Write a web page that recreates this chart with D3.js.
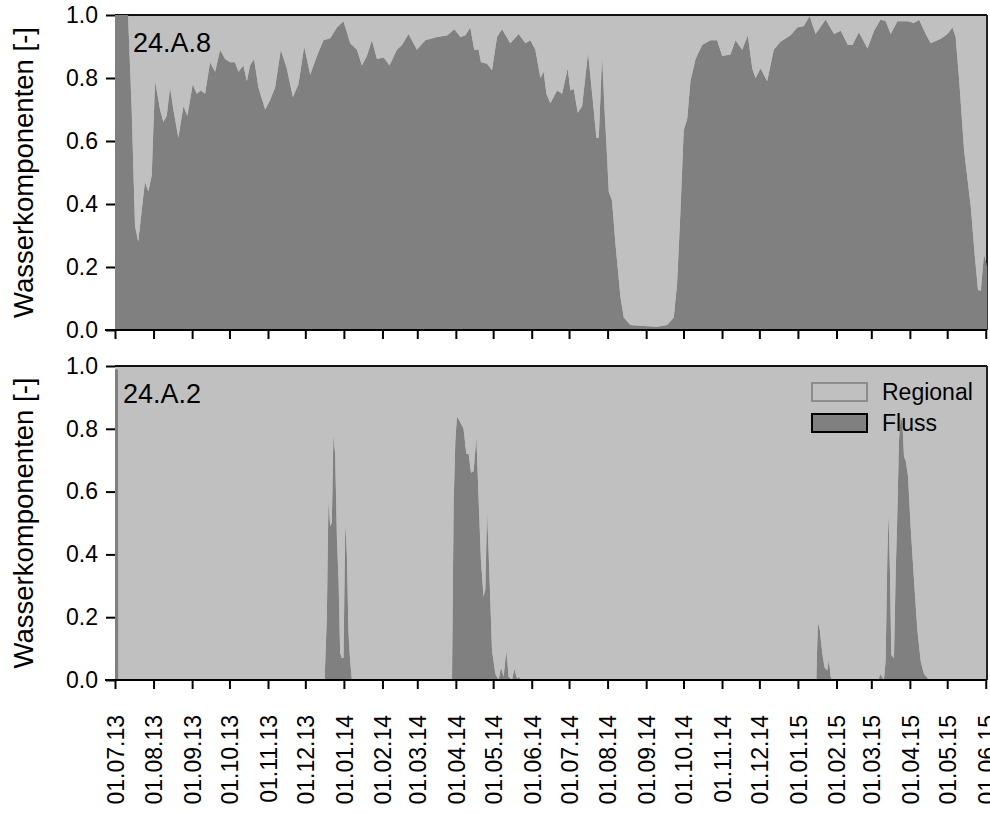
<!DOCTYPE html>
<html>
<head>
<meta charset="utf-8">
<script src="https://cdn.jsdelivr.net/npm/d3@7"></script>
<style>
    body { margin: 0; background: #fff; }
    text { font-family: "Liberation Sans", Arial, sans-serif; fill: #000; }
</style>
</head>
<body>
<div id="chart"></div>
<script>
// day offsets counted from startDate, value = Fluss share [-]
const startDate = "2013-07-01";
const endDate = "2015-06-02";

const tickLabels = ["01.07.13", "01.08.13", "01.09.13", "01.10.13", "01.11.13", "01.12.13",
    "01.01.14", "01.02.14", "01.03.14", "01.04.14", "01.05.14", "01.06.14", "01.07.14",
    "01.08.14", "01.09.14", "01.10.14", "01.11.14", "01.12.14", "01.01.15", "01.02.15",
    "01.03.15", "01.04.15", "01.05.15", "01.06.15"];
const yTicks = [0, 0.2, 0.4, 0.6, 0.8, 1.0];

const seriesNames = ["Regional", "Fluss"];

// 24.A.8
const topDays = [0, 10.5, 13.4, 16.1, 18.7, 21.5, 24.1, 26.8, 29.5, 32.2, 36.2, 38.9, 41.6, 44.3, 46.9,
    50.9, 55.0, 58.2, 62.5, 65.7, 69.0, 72.4, 76.4, 80.5, 84.5, 88.5, 92.5, 96.5, 99.2, 103.2,
    106.0, 108.6, 111.8, 115.3, 120.7, 124.7, 128.7, 133.3, 138.1, 143.0, 147.5, 152.1, 156.9,
    162.3, 167.6, 173.0, 178.4, 183.7, 189.1, 194.5, 198.5, 202.5, 206.5, 210.6, 215.9, 220.7,
    226.6, 230.7, 236.0, 242.7, 249.4, 258.8, 266.9, 272.8, 277.6, 281.6, 285.6, 288.8, 292.3,
    294.2, 299.1, 303.1, 307.1, 311.1, 317.8, 324.5, 329.9, 333.9, 337.9, 342.0, 344.6, 346.8,
    350.0, 355.4, 359.4, 363.9, 366.1, 368.8, 372.0, 375.5, 380.3, 383.6, 387.0, 388.9, 391.6,
    393.4, 395.6, 396.9, 399.6, 402.3, 406.3, 409.0, 414.3, 425.0, 435.8, 443.9, 449.2, 451.9,
    454.6, 457.2, 460.0, 462.6, 466.7, 472.0, 478.7, 484.1, 488.1, 494.8, 498.8, 504.2, 508.7,
    512.3, 514.9, 519.0, 524.3, 529.6, 535.0, 543.1, 548.5, 553.8, 558.4, 563.2, 571.3, 578.0,
    583.4, 589.2, 592.8, 598.1, 604.9, 610.2, 615.5, 619.6, 623.6, 629.0, 637.0, 642.3, 646.4,
    651.7, 655.7, 663.8, 669.2, 673.2, 675.8, 678.5, 682.6, 688.0, 691.1, 693.8, 696.0, 698.6,
    700.0, 701.2];
const topFluss = [1.0, 1.0, 0.70, 0.33, 0.28, 0.38, 0.47, 0.44, 0.49, 0.79, 0.70, 0.66, 0.68, 0.77, 0.70,
    0.61, 0.71, 0.68, 0.78, 0.75, 0.76, 0.75, 0.85, 0.82, 0.89, 0.86, 0.85, 0.85, 0.82, 0.84,
    0.79, 0.84, 0.86, 0.77, 0.70, 0.73, 0.77, 0.89, 0.83, 0.74, 0.78, 0.90, 0.81,
    0.87, 0.92, 0.926, 0.96, 0.98, 0.91, 0.89, 0.84, 0.87, 0.92, 0.86, 0.865, 0.84,
    0.89, 0.905, 0.94, 0.89, 0.92, 0.93, 0.935, 0.955, 0.93, 0.935, 0.96, 0.89, 0.89,
    0.85, 0.845, 0.825, 0.93, 0.955, 0.91, 0.94, 0.91, 0.92, 0.89, 0.80, 0.82, 0.75,
    0.72, 0.76, 0.75, 0.83, 0.76, 0.765, 0.69, 0.71, 0.88, 0.75, 0.61, 0.61, 0.87,
    0.71, 0.55, 0.44, 0.41, 0.275, 0.106, 0.04, 0.016, 0.013, 0.01, 0.016, 0.04, 0.15,
    0.38, 0.635, 0.67, 0.79, 0.86, 0.905, 0.92, 0.92, 0.87, 0.875, 0.92, 0.89, 0.936,
    0.83, 0.80, 0.83, 0.79, 0.89, 0.915, 0.936, 0.96, 0.965, 0.997, 0.94, 0.986, 0.94,
    0.95, 0.905, 0.905, 0.945, 0.894, 0.95, 0.986, 0.98, 0.94, 0.98, 0.98, 0.975, 0.985,
    0.94, 0.91, 0.925, 0.94, 0.96, 0.93, 0.80, 0.57, 0.39, 0.24, 0.127, 0.125, 0.24,
    0.22, 0.20];

// 24.A.2
const bottomDays = [0, 2.4, 2.8, 168.5, 170.3, 171.6, 173.0, 174.3, 175.6, 177.0, 178.4, 179.7, 181.0,
    182.4, 183.7, 185.1, 186.4, 187.7, 189.1, 190.4,
    270.9, 272.2, 273.6, 274.9, 277.6, 280.2, 282.4, 284.3, 286.2, 288.3, 290.5, 292.3, 294.2,
    296.3, 297.7, 299.1, 300.4, 301.7, 303.1, 305.7, 308.4, 310.3, 312.4, 314.6, 316.4, 319.2,
    321.0, 323.2, 325.0, 325.8,
    563.8, 565.0, 566.6, 568.6, 570.4, 572.6, 573.9, 575.3, 576.6,
    614.0, 615.0, 618.1, 619.5, 620.9, 621.9, 623.0, 624.1, 626.2, 627.6, 628.9, 630.2, 631.6,
    633.0, 634.3, 635.6, 637.5, 639.6, 642.3, 645.0, 647.7, 650.3, 654.4, 701.6];
const bottomFluss = [0.99, 0.99, 0, 0, 0.20, 0.57, 0.49, 0.50, 0.78, 0.72, 0.45, 0.32, 0.085,
    0.07, 0.07, 0.50, 0.40, 0.15, 0.06, 0,
    0, 0.56, 0.76, 0.84, 0.82, 0.80, 0.72, 0.72, 0.66, 0.665, 0.775, 0.58, 0.38,
    0.265, 0.29, 0.54, 0.40, 0.255, 0.095, 0.02, 0, 0.04, 0.01, 0.095, 0.01, 0,
    0.035, 0.005, 0.01, 0,
    0, 0.185, 0.16, 0.085, 0.04, 0.03, 0.065, 0.01, 0,
    0, 0.02, 0, 0.06, 0.40, 0.53, 0.34, 0.08, 0.07, 0.34, 0.53, 0.76, 0.84,
    0.82, 0.71, 0.70, 0.65, 0.49, 0.32, 0.16, 0.06, 0.02, 0, 0];

const width = 990, height = 814;
const left = 115, right = 987;
const colRegional = "#c0c0c0", colFluss = "#808080";

const parseDay = d3.timeParse("%Y-%m-%d");
const parseTick = d3.timeParse("%d.%m.%y");
const start = parseDay(startDate);

const x = d3.scaleTime()
    .domain([start, parseDay(endDate)])
    .range([left, right]);

const svg = d3.select("#chart").append("svg")
    .attr("width", width)
    .attr("height", height);

function toPoints(days, values) {
    return days.map((d, i) => ({date: d3.timeHour.offset(start, Math.round(d * 24)), v: values[i]}));
}

function drawPanel(top, bottom, days, values, label, labelX, showTickLabels, legend) {
    const y = d3.scaleLinear().domain([0, 1]).range([bottom, top]);
    const pts = toPoints(days, values);
    const g = svg.append("g");

    // regional share fills the space between fluss and 1
    g.append("path")
        .datum(pts)
        .attr("fill", colRegional)
        .attr("d", d3.area().x(d => x(d.date)).y0(y(1)).y1(d => y(d.v)));

    // frame (top and right), lies under the Fluss area
    g.append("line")
        .attr("x1", left).attr("x2", right)
        .attr("y1", top).attr("y2", top)
        .attr("stroke", "#111").attr("stroke-width", 2);
    g.append("line")
        .attr("x1", right).attr("x2", right)
        .attr("y1", top).attr("y2", bottom)
        .attr("stroke", "#222").attr("stroke-width", 2);

    g.append("path")
        .datum(pts)
        .attr("fill", colFluss)
        .attr("d", d3.area().x(d => x(d.date)).y0(y(0)).y1(d => y(d.v)));

    // y axis
    const ya = g.append("g")
        .attr("transform", `translate(${left},0)`)
        .call(d3.axisLeft(y).tickValues(yTicks).tickFormat(d3.format(".1f")).tickSize(9).tickPadding(8));
    ya.select(".domain").remove();
    ya.selectAll(".tick line").attr("stroke", "#000").attr("stroke-width", 2);
    ya.selectAll(".tick text").attr("font-size", 23).attr("font-family", "Liberation Sans, Arial, sans-serif");

    // x axis
    const xa = g.append("g")
        .attr("transform", `translate(0,${bottom})`)
        .call(d3.axisBottom(x).tickValues(tickLabels.map(parseTick)).tickSize(9)
            .tickFormat(d3.timeFormat("%d.%m.%y")));
    xa.select(".domain").attr("d", `M${left - 10},0H${right}`).attr("stroke", "#000").attr("stroke-width", 2);
    xa.selectAll(".tick line").attr("stroke", "#000").attr("stroke-width", 2);
    if (showTickLabels) {
        xa.selectAll(".tick text")
            .attr("font-size", 23)
            .attr("font-family", "Liberation Sans, Arial, sans-serif")
            .attr("text-anchor", "end")
            .attr("transform", "rotate(-90)")
            .attr("x", -35)
            .attr("y", 0)
            .attr("dy", "0.36em");
    } else {
        xa.selectAll(".tick text").remove();
    }

    g.append("text")
        .attr("x", labelX)
        .attr("y", top + 37)
        .attr("font-size", 27)
        .text(label);

    g.append("text")
        .attr("transform", `translate(33,${(top + bottom) / 2}) rotate(-90)`)
        .attr("text-anchor", "middle")
        .attr("font-size", 27.5)
        .text("Wasserkomponenten [-]");

    if (legend) {
        const lg = g.append("g").attr("transform", `translate(812,${top + 17})`);
        const styles = [
            {fill: colRegional, stroke: "#8c8c8c"},
            {fill: colFluss, stroke: "#000"}
        ];
        seriesNames.forEach((name, i) => {
            lg.append("rect")
                .attr("x", 0).attr("y", i * 31)
                .attr("width", 55).attr("height", 18)
                .attr("fill", styles[i].fill)
                .attr("stroke", styles[i].stroke)
                .attr("stroke-width", 2);
            lg.append("text")
                .attr("x", 70).attr("y", i * 31 + 17)
                .attr("font-size", 23)
                .text(name);
        });
    }
}

drawPanel(15, 330, topDays, topFluss, "24.A.8", 133, false, false);
drawPanel(366, 680, bottomDays, bottomFluss, "24.A.2", 123, true, true);
</script>
</body>
</html>
